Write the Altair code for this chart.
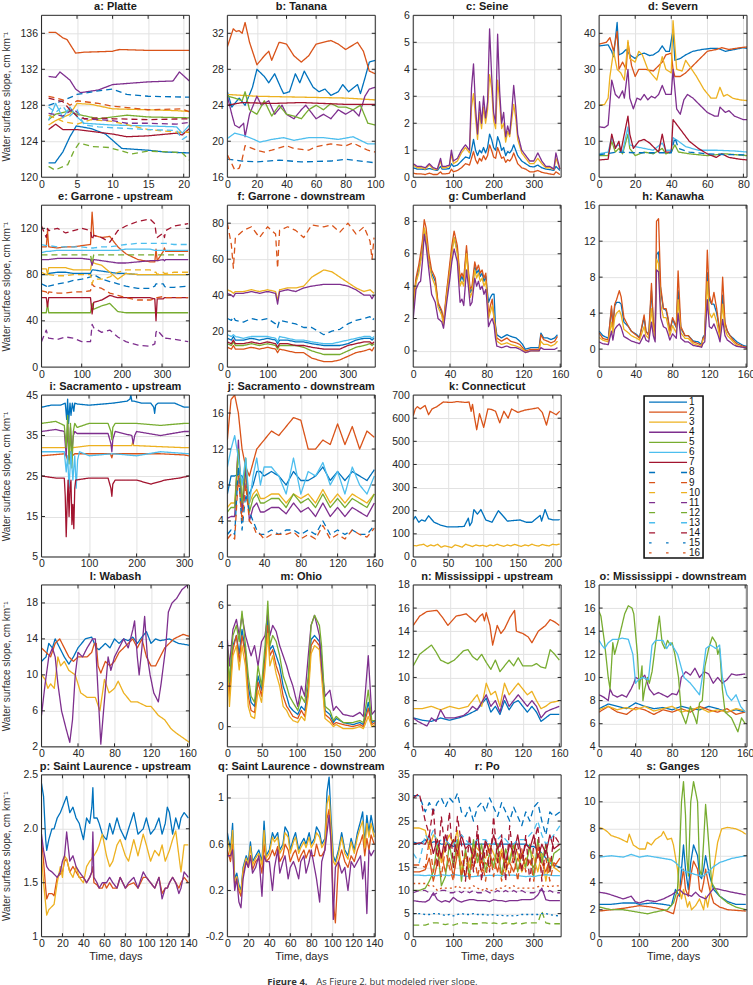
import altair as alt
import pandas as pd

# ---------------- style ----------------
FONT = "Liberation Sans Narrow, Liberation Sans, Arial, sans-serif"
FONT_REG = "Liberation Sans, Arial, sans-serif"
PW, PH = 148, 162
INK = "#262626"
TICK = 3.5

SERIES_IDS = [f"{i:02d}" for i in range(1, 17)]
BASE = ["#0072BD", "#D95319", "#EDB120", "#7E2F8E", "#77AC30", "#4DBEEE", "#A2142F"]
SERIES_COLORS = [BASE[i % 7] for i in range(16)]
PLOT_DASH = [[1, 0]] * 7 + [[6, 4]] * 7 + [[2, 3]] * 2
LEGEND_DASH = [[1, 0]] * 7 + [[6, 26]] * 7 + [[2.5, 14.5]] * 2

YTITLE = "Water surface slope, cm km\u207b\u00b9"
XTITLE = "Time, days"
LEGEND_LABELS = [str(i) for i in range(1, 17)]
CAPTION_BOLD = "Figure 4."
CAPTION_TEXT = "As Figure 2, but modeled river slope."

# ---------------- data (series id -> (x values, y values)) ----------------
PLATTE = {
    2: ([1, 2, 3, 3.6, 4.8, 6, 10, 11, 15, 20.8], [136.1, 136.1, 135.5, 135.3, 133.8, 133.9, 134.0, 134.2, 134.1, 134.1]),
    4: ([1, 2, 2.6, 4, 4.8, 5.5, 8, 10, 15, 18.5, 19.4, 20.8], [131.2, 131.1, 131.7, 130.8, 129.8, 129.4, 129.7, 130.3, 130.6, 130.7, 131.7, 130.7]),
    8: ([1, 3, 5, 8, 10, 12, 15, 20.8], [128.0, 128.5, 129.2, 129.6, 129.8, 129.2, 129.0, 128.9]),
    9: ([1, 3, 4, 5, 8, 10, 15, 19.6, 20.8], [129.0, 128.6, 128.0, 128.5, 128.2, 127.9, 127.5, 127.6, 127.3]),
    3: ([1, 2, 4, 5, 7, 10, 15, 19, 20.8], [125.8, 126.3, 127.0, 128.2, 128.1, 127.6, 127.5, 127.4, 127.3]),
    5: ([1, 2, 4, 5, 8, 10, 12, 15, 20.8], [126.4, 127.0, 127.4, 127.0, 126.5, 126.7, 126.9, 126.7, 126.6]),
    11: ([1, 3, 4.5, 6, 10, 12, 15, 19, 20.8], [127.1, 126.8, 127.6, 126.5, 126.3, 126.0, 126.0, 125.9, 126.1]),
    6: ([1, 2, 3, 4, 5, 6, 10, 15, 19, 19.8, 20.8], [126.3, 128.2, 126.6, 127.8, 126.7, 126.0, 125.8, 125.7, 125.6, 124.9, 125.8]),
    13: ([1, 2, 3, 4, 5, 6, 8, 10, 15, 19, 19.8, 20.8], [127.8, 127.2, 127.9, 126.8, 127.5, 125.8, 125.6, 125.5, 125.3, 125.2, 124.2, 124.7]),
    10: ([1, 3, 5, 7, 10, 15, 19, 20.8], [126.9, 126.2, 125.9, 126.4, 126.2, 125.3, 125.0, 125.0]),
    7: ([1, 2, 3, 5, 8, 10, 12, 15, 19, 19.8, 20.8], [125.3, 125.9, 125.3, 125.3, 125.0, 124.8, 124.5, 124.6, 124.9, 124.7, 125.4]),
    14: ([1, 3, 4, 5, 6, 8, 10, 15, 20.8], [128.8, 128.4, 127.5, 126.8, 126.5, 126.6, 126.5, 126.4, 126.5]),
    1: ([1, 1.9, 3, 4, 4.9, 7, 9, 11.3, 15, 17.4, 20.8], [121.6, 121.6, 122.8, 124.5, 125.7, 125.4, 124.8, 123.2, 123.0, 122.8, 122.7]),
    12: ([1, 1.9, 3.7, 4.6, 5.3, 7.2, 9.5, 12.7, 15, 18.5, 19.8, 20.8], [121.2, 120.8, 121.4, 123.0, 123.8, 123.4, 123.3, 122.6, 122.9, 122.8, 122.7, 121.9]),
}

TANANA = {
    2: ([0, 2, 4, 6, 8, 10, 12, 15, 20, 25, 28, 30, 35, 40, 45, 50, 55, 60, 70, 75, 80, 88, 92, 96, 100],
        [30.5, 31.5, 32.5, 32.2, 32.3, 32.0, 33.2, 31.0, 28.5, 29.5, 30.0, 29.0, 31.0, 30.8, 29.5, 28.8, 29.5, 30.8, 31.2, 30.8, 30.2, 31.0, 30.0, 27.8, 27.5]),
    1: ([0, 3, 8, 12, 17, 20, 25, 28, 32, 36, 38, 42, 46, 49, 52, 58, 62, 66, 70, 75, 78, 82, 88, 90, 93, 96, 100],
        [25.5, 23.8, 24.8, 24.0, 26.0, 28.0, 27.2, 26.5, 27.5, 26.0, 25.3, 25.5, 27.5, 26.5, 27.8, 26.0, 25.5, 25.8, 25.1, 25.5, 26.3, 25.5, 26.3, 25.3, 27.0, 28.8, 29.0]),
    3: ([0, 20, 50, 80, 100], [25.2, 25.0, 24.9, 24.8, 24.6]),
    7: ([0, 10, 30, 50, 80, 100], [24.0, 24.3, 24.2, 24.3, 24.1, 24.1]),
    5: ([0, 5, 10, 12, 15, 20, 25, 30, 35, 40, 45, 50, 55, 60, 65, 70, 75, 80, 85, 90, 95, 100],
        [25.0, 24.8, 24.5, 25.5, 23.5, 23.0, 24.5, 22.8, 24.0, 23.0, 22.8, 22.5, 23.5, 24.0, 23.5, 24.2, 23.8, 23.8, 23.5, 24.0, 22.0, 21.8]),
    4: ([0, 3, 5, 8, 11, 12, 15, 20, 23, 28, 32, 37, 40, 45, 50, 53, 60, 65, 70, 75, 80, 85, 89, 93, 96, 100],
        [25.0, 23.0, 21.8, 21.5, 22.0, 20.5, 23.0, 25.0, 24.0, 24.5, 23.0, 24.0, 23.0, 22.5, 23.5, 24.0, 22.5, 23.0, 22.5, 23.5, 23.0, 23.5, 22.8, 25.0, 25.8, 26.0]),
    6: ([0, 5, 12, 18, 22, 30, 38, 45, 55, 65, 75, 85, 95, 100],
        [20.3, 20.9, 20.6, 20.2, 19.9, 20.2, 20.4, 20.1, 20.4, 20.4, 20.2, 20.5, 19.7, 19.7]),
    9: ([0, 3, 5, 8, 10, 12, 20, 25, 30, 40, 45, 55, 60, 70, 80, 85, 95, 100],
        [18.5, 17.5, 16.8, 17.0, 18.0, 19.5, 19.0, 18.8, 19.0, 19.5, 19.2, 19.0, 19.4, 19.7, 19.5, 19.8, 19.0, 18.8]),
    8: ([0, 10, 20, 35, 50, 70, 80, 95, 100], [18.0, 17.8, 17.7, 17.9, 17.7, 17.8, 18.0, 17.7, 17.6]),
}

C_X = [0, 10, 20, 30, 40, 50, 60, 68, 72, 80, 90, 95, 100, 110, 120, 130, 140, 145, 150, 155, 160, 165, 170, 175, 180, 185,
       190, 195, 200, 205, 210, 215, 220, 225, 230, 235, 240, 245, 250, 255, 260, 270, 280, 290, 300, 310, 320, 330, 340, 350, 355, 365]
SEINE = {
    2: (C_X, [0.15, 0.12, 0.12, 0.1, 0.15, 0.1, 0.1, 0.2, 0.12, 0.12, 0.15, 0.3, 0.2, 0.25, 0.35, 0.5, 0.45, 0.7, 0.95, 0.65, 0.5, 0.7, 0.6, 0.8, 0.65, 0.8,
              1.2, 1.0, 0.75, 0.7, 1.1, 0.9, 0.7, 0.75, 0.55, 0.65, 0.6, 0.7, 0.9, 0.7, 0.5, 0.35, 0.3, 0.2, 0.2, 0.25, 0.18, 0.15, 0.12, 0.1, 0.2, 0.1]),
    1: (C_X, [0.35, 0.3, 0.3, 0.28, 0.32, 0.28, 0.25, 0.4, 0.3, 0.3, 0.32, 0.5, 0.4, 0.45, 0.6, 0.75, 0.7, 1.0, 1.4, 1.0, 0.8, 1.0, 0.9, 1.1, 0.9, 1.1,
              1.6, 1.4, 1.1, 1.0, 1.5, 1.3, 1.0, 1.1, 0.8, 0.95, 0.9, 1.0, 1.2, 1.0, 0.8, 0.6, 0.5, 0.4, 0.38, 0.45, 0.35, 0.3, 0.28, 0.25, 0.4, 0.25]),
    3: (C_X, [0.45, 0.35, 0.35, 0.3, 0.45, 0.3, 0.28, 0.6, 0.35, 0.35, 0.4, 0.85, 0.5, 0.6, 0.9, 1.1, 0.9, 2.6, 3.1, 2.2, 1.4, 2.4, 1.8, 2.6, 2.0, 2.5,
              3.8, 3.3, 2.1, 1.8, 3.6, 2.8, 1.8, 2.0, 1.3, 1.7, 1.5, 2.1, 2.7, 2.2, 1.4, 0.9, 0.7, 0.5, 0.5, 0.7, 0.5, 0.35, 0.35, 0.28, 0.7, 0.3]),
    4: (C_X, [0.5, 0.4, 0.4, 0.35, 0.5, 0.35, 0.3, 0.7, 0.4, 0.4, 0.45, 1.0, 0.6, 0.7, 1.0, 1.2, 1.0, 3.3, 4.2, 2.6, 1.6, 2.8, 2.0, 3.0, 2.2, 2.8,
              5.5, 3.8, 2.4, 2.0, 5.3, 3.2, 2.0, 2.4, 1.5, 1.9, 1.6, 2.4, 3.4, 2.6, 1.6, 1.0, 0.8, 0.6, 0.6, 0.9, 0.6, 0.4, 0.4, 0.3, 0.9, 0.3]),
}

SEVERN = {
    8: ([0, 10, 20, 30, 40, 42, 44, 50, 60, 70, 82], [6.2, 7, 6.8, 6.8, 6.8, 11, 8, 7, 6.5, 6.3, 6.2]),
    5: ([0, 5, 7, 9, 11, 13, 16, 17, 20, 25, 30, 35, 37, 40, 42, 44, 50, 60, 70, 82],
        [6, 6, 10, 7, 8, 6.5, 12, 8, 6, 7, 6.5, 8, 6.5, 7, 9, 7, 6.5, 6, 6.5, 6]),
    6: ([0, 5, 7, 9, 11, 13, 16, 17, 20, 25, 30, 35, 37, 40, 41, 44, 48, 55, 65, 75, 82],
        [6.5, 7, 11, 8.5, 9, 7, 14, 9, 8.5, 8, 7.5, 9.5, 7.5, 7.5, 11, 10, 8.5, 7.5, 7.5, 7.3, 7]),
    7: ([0, 5, 7, 9, 11, 12, 16, 17, 19, 22, 25, 28, 30, 33, 35, 37, 40, 41, 44, 47, 50, 55, 60, 65, 68, 72, 78, 82],
        [4.8, 5, 12, 8, 10, 7, 17, 12, 8, 10, 10.5, 9.5, 8.5, 7, 12, 7, 7, 16, 14, 12, 10, 8, 6.5, 5.5, 6.5, 5.5, 5, 4.8]),
    4: ([0, 3, 5, 7, 9, 11, 13, 14, 16, 17, 19, 21, 23, 25, 27, 29, 31, 33, 35, 37, 40, 41, 43, 45, 47, 49, 52, 56, 60, 64, 66, 67, 70, 72, 75, 80, 82],
        [14, 13.8, 14.5, 27, 23, 22, 24, 22, 30, 22, 19, 22, 21.5, 23, 21.5, 22.5, 22, 23, 25.5, 23, 23, 30, 19, 17.5, 21.5, 23, 22, 20, 18, 17, 17, 19.5, 18, 18.5, 17, 16, 16]),
    3: ([0, 3, 5, 6, 8, 10, 12, 14, 16, 17, 20, 22, 24, 27, 32, 35, 37, 40, 41, 43, 46, 48, 50, 54, 58, 62, 65, 67, 69, 71, 74, 78, 82],
        [20, 20.2, 22, 28, 35, 30, 29, 27, 38, 33, 32, 35, 34, 30, 27, 33.5, 30, 29, 43.5, 30, 29.5, 32.5, 31, 28, 24.5, 22, 22, 25, 22.5, 23, 22, 21.5, 21.3]),
    2: ([0, 4, 6, 8, 10, 11, 13, 15, 16, 18, 20, 22, 26, 30, 33, 35, 37, 40, 41, 42, 45, 48, 52, 56, 60, 65, 68, 72, 78, 82],
        [37, 37.5, 38.8, 35, 40.5, 30, 32, 30, 37.5, 31, 28, 30, 30, 29.5, 31, 32, 34, 34.5, 30, 28, 28, 29, 31, 33, 35, 35.5, 36, 35.5, 36, 36.2]),
    1: ([0, 5, 7, 8, 10, 11, 13, 15, 17, 20, 22, 25, 28, 30, 33, 35, 37, 39, 41, 42, 45, 48, 52, 57, 62, 66, 70, 75, 80, 82],
        [36.5, 36.8, 35, 33.5, 43, 34, 34.5, 35.5, 34, 33, 34, 34.5, 33.8, 34, 35, 36.5, 35, 35, 41, 32.5, 33, 34, 35, 35.5, 35.8, 35.8, 35, 35.5, 36, 35.8]),
}

E_X = [0, 12, 15, 18, 40, 60, 80, 100, 122, 126, 130, 150, 170, 190, 210, 240, 270, 282, 285, 288, 303, 306, 309, 330, 365]
GARONNE_UP = {
    11: (E_X, [22, 32, 28, 25, 24, 26, 25, 22, 22, 37, 34, 30, 32, 26, 22, 19, 18, 20, 30, 32, 26, 24, 25, 24, 22]),
    5: (E_X, [47, 47, 55, 47, 47, 47, 47, 47, 47, 55, 50, 53, 55, 48, 47, 47, 47, 47, 47, 47, 47, 47, 47, 47, 47]),
    7: (E_X, [60, 60, 52, 60, 60, 60, 60, 60, 60, 46, 56, 58, 62, 60, 60, 60, 60, 59, 40, 59, 59, 60, 60, 60, 60]),
    9: (E_X, [66, 65, 62, 65, 64, 64, 65, 65, 66, 72, 70, 68, 64, 62, 60, 58, 58, 59, 60, 60, 61, 60, 60, 60, 60]),
    8: (E_X, [72, 70, 68, 70, 72, 73, 75, 76, 78, 80, 80, 76, 74, 72, 70, 68, 68, 70, 72, 72, 72, 70, 69, 69, 70]),
    1: (E_X, [80, 80, 80, 81, 82, 82, 81, 81, 81, 84, 84, 83, 82, 81, 81, 80, 80, 80, 80, 80, 80, 80, 80, 80, 80]),
    10: (E_X, [82, 80, 78, 80, 79, 79, 80, 80, 80, 72, 76, 76, 78, 82, 84, 84, 84, 82, 82, 80, 82, 81, 81, 82, 82]),
    3: (E_X, [85, 85, 80, 86, 86, 86, 84, 84, 84, 92, 90, 88, 82, 76, 81, 80, 80, 80, 80, 80, 80, 80, 80, 80, 80]),
    4: (E_X, [93, 93, 93, 93, 94, 94, 94, 94, 93, 88, 93, 92, 91, 90, 90, 91, 92, 92, 92, 92, 93, 92, 93, 93, 93]),
    12: (E_X, [97, 97, 97, 97, 97, 97, 97, 97, 97, 90, 97, 97, 97, 97, 97, 97, 97, 97, 97, 97, 97, 97, 97, 97, 97]),
    6: (E_X, [99, 100, 100, 100, 101, 101, 101, 101, 101, 101, 101, 101, 101, 101, 102, 102, 102, 101, 101, 101, 101, 101, 101, 101, 101]),
    13: (E_X, [106, 105, 105, 105, 104, 104, 104, 104, 103, 103, 103, 104, 104, 105, 106, 107, 107, 107, 107, 107, 107, 107, 107, 106, 106]),
    2: (E_X, [104, 104, 118, 104, 103, 104, 104, 105, 106, 134, 114, 112, 113, 104, 98, 93, 91, 91, 102, 92, 100, 103, 100, 100, 100]),
    14: (E_X, [122, 112, 120, 118, 120, 116, 118, 120, 118, 110, 114, 112, 108, 118, 122, 126, 128, 124, 116, 112, 116, 112, 118, 122, 124]),
}

F_X = [0, 10, 15, 20, 40, 60, 80, 100, 120, 125, 130, 150, 170, 190, 210, 240, 260, 280, 300, 320, 340, 355, 360, 365]
GARONNE_DOWN = {
    2: (F_X, [11, 10, 12, 10, 10, 11, 10, 11, 10, 8, 10, 9, 8, 8, 5, 3, 3, 4, 6, 8, 9, 10, 9, 11]),
    5: (F_X, [13, 12, 14, 12, 12, 13, 12, 13, 12, 10, 12, 12, 12, 11, 9, 7, 7, 7, 9, 11, 12, 13, 12, 13]),
    7: (F_X, [14, 13, 15, 13, 13, 14, 13, 14, 13, 11, 13, 13, 12, 12, 11, 10, 10, 10, 12, 13, 14, 14, 13, 14]),
    1: (F_X, [16, 15, 17, 15, 15, 16, 15, 16, 15, 13, 15, 15, 14, 14, 13, 12, 12, 12, 13, 15, 16, 16, 15, 16]),
    6: (F_X, [18, 17, 18, 17, 16, 17, 17, 17, 16, 14, 17, 16, 15, 15, 14, 13, 13, 14, 15, 16, 17, 17, 16, 17]),
    8: (F_X, [27, 26, 28, 26, 25, 27, 26, 27, 24, 22, 26, 25, 24, 22, 22, 18, 20, 21, 24, 26, 27, 28, 26, 27]),
    4: (F_X, [41, 40, 39, 41, 41, 42, 41, 42, 41, 35, 42, 43, 42, 44, 45, 46, 46, 46, 45, 43, 40, 40, 38, 40]),
    3: (F_X, [43, 42, 41, 42, 42, 43, 42, 43, 42, 37, 43, 44, 44, 45, 50, 54, 53, 50, 47, 44, 42, 43, 42, 41]),
    9: (F_X, [80, 68, 55, 72, 76, 78, 72, 78, 74, 55, 76, 78, 76, 72, 79, 78, 79, 75, 80, 74, 78, 70, 60, 72]),
}

G_X = [0, 3, 6, 8, 10, 12, 14, 17, 20, 24, 27, 31, 33, 36, 40, 42, 44.5, 48, 51, 53, 55, 58, 60, 62, 64, 67, 69, 71, 73, 75,
       77, 79, 80, 82, 84, 86, 88, 89.5, 91, 96, 102, 106, 112, 116, 119, 122, 128, 134, 137, 139, 142, 146, 150, 154, 157]
CUMBERLAND = {
    4: (G_X, [2.0, 3.8, 4.2, 4.3, 5.5, 7.2, 6.5, 5.0, 3.5, 3.0, 2.0, 1.8, 1.4, 2.8, 4.5, 5.5, 6.3, 5.5, 3.0, 3.2, 2.8, 5.0, 4.0, 2.8, 3.0, 4.5, 4.0, 4.3, 3.8, 4.0,
              3.5, 3.8, 3.2, 1.5, 1.8, 2.0, 1.6, 0.8, 0.3, 0.2, 0.3, 0.2, 0.2, 0.1, 0.0, -0.1, 0.0, 0.0, 0.0, 0.2, 0.1, 0.1, 0.1, 0.1, 0.2]),
    3: (G_X, [2.6, 4.2, 4.8, 5.5, 6.2, 7.6, 7.0, 5.5, 4.6, 4.0, 2.7, 2.2, 1.6, 3.2, 5.0, 6.0, 7.0, 6.0, 4.0, 4.3, 4.0, 6.0, 4.6, 3.3, 3.6, 5.0, 4.5, 4.8, 4.3, 4.5,
              4.0, 4.3, 3.6, 2.0, 2.4, 2.8, 2.0, 1.3, 0.6, 0.4, 0.5, 0.4, 0.3, 0.2, 0.1, -0.1, 0.0, 0.0, 0.0, 0.6, 0.4, 0.4, 0.3, 0.4, 0.6]),
    1: (G_X, [2.8, 4.3, 5.0, 5.6, 6.4, 7.5, 7.0, 5.6, 4.8, 4.3, 2.9, 2.4, 1.7, 3.3, 5.2, 6.2, 7.0, 6.2, 4.3, 4.6, 4.3, 6.2, 4.8, 3.6, 3.8, 5.2, 4.8, 5.0, 4.6, 4.8,
              4.3, 4.6, 4.0, 3.0, 3.3, 3.5, 3.5, 1.6, 1.0, 0.8, 1.0, 0.9, 0.8, 0.6, 0.4, 0.1, 0.2, 0.2, 0.2, 1.1, 0.8, 0.8, 0.7, 0.8, 1.0]),
    2: (G_X, [3.0, 4.5, 5.3, 6.0, 6.8, 8.1, 7.6, 6.0, 5.0, 4.5, 3.0, 2.5, 1.8, 3.5, 5.5, 6.5, 7.4, 6.5, 4.5, 4.8, 4.5, 6.5, 5.0, 3.8, 4.0, 5.5, 5.0, 5.3, 4.8, 5.0,
              4.5, 4.8, 4.0, 2.2, 2.8, 3.2, 2.0, 1.5, 0.8, 0.6, 0.8, 0.6, 0.5, 0.4, 0.2, 0.0, 0.1, 0.1, 0.1, 1.0, 0.7, 0.6, 0.5, 0.6, 0.9]),
}

H_X = [0, 4, 10, 13.5, 15, 17, 19, 22, 24, 27, 32, 35, 41, 44, 49, 51, 54, 57, 59, 61, 62.5, 64.7, 67, 70, 73, 75, 77, 80, 84, 86,
       89, 93.5, 97, 102.5, 108, 111.6, 113, 115, 117.8, 120, 122.5, 125, 128, 130, 131.6, 134.5, 137, 139.6, 142.5, 146, 150, 157, 161]
KANAWHA = {
    2: (H_X, [1.8, 1.2, 1.0, 4.8, 2.5, 5.0, 5.5, 6.5, 5.8, 3.5, 2.5, 2.0, 1.5, 1.2, 3.8, 2.0, 1.5, 7.3, 3.0, 1.5, 14.2, 14.5, 7.0, 4.5, 4.5, 3.5, 2.0, 3.5, 2.5, 8.7,
              2.5, 1.5, 1.5, 0.8, 0.6, 0.4, 1.2, 1.5, 11.0, 6.0, 5.0, 6.3, 4.5, 3.0, 1.5, 8.0, 3.0, 2.0, 1.5, 1.0, 0.6, 0.3, 0.2]),
    1: (H_X, [2.0, 1.5, 1.2, 4.5, 2.5, 4.8, 5.2, 5.2, 5.0, 3.0, 2.5, 2.0, 1.6, 1.3, 3.5, 2.0, 1.6, 6.5, 3.0, 1.6, 10.5, 10.8, 6.5, 4.5, 4.3, 3.3, 2.0, 3.3, 2.4, 6.5,
              2.3, 1.5, 1.5, 0.9, 0.8, 0.5, 1.3, 1.6, 8.5, 5.5, 5.0, 5.0, 4.0, 2.8, 1.5, 6.0, 2.8, 2.0, 1.5, 1.2, 0.8, 0.4, 0.3]),
    3: (H_X, [1.3, 1.0, 0.8, 3.0, 1.8, 3.5, 4.0, 4.3, 3.8, 2.2, 1.8, 1.5, 1.2, 1.0, 2.5, 1.5, 1.2, 4.5, 2.2, 1.2, 10.0, 9.5, 5.0, 3.5, 3.5, 2.6, 1.5, 2.6, 1.8, 5.5,
              1.8, 1.2, 1.2, 0.6, 0.4, 0.3, 1.0, 1.2, 7.5, 4.0, 3.5, 4.0, 3.0, 2.0, 1.2, 5.0, 2.2, 1.5, 1.2, 0.8, 0.4, 0.2, 0.1]),
    4: (H_X, [0.8, 0.6, 0.5, 2.0, 1.0, 2.2, 2.5, 2.8, 2.4, 1.4, 1.1, 0.9, 0.7, 0.6, 1.6, 1.0, 0.8, 3.0, 1.5, 0.8, 8.8, 8.6, 3.5, 2.5, 2.3, 1.7, 1.0, 1.7, 1.2, 4.0,
              1.2, 0.8, 0.8, 0.4, 0.3, 0.2, 0.6, 0.8, 5.5, 2.5, 2.3, 2.8, 2.0, 1.4, 0.8, 3.3, 1.5, 1.0, 0.8, 0.5, 0.3, 0.2, 0.1]),
}

SAC_UP = {
    7: ([0, 30, 48, 50, 52, 54, 56, 58, 60, 62, 64, 66, 68, 70, 72, 100, 140, 146, 148, 150, 155, 200, 230, 260, 290, 310],
        [25, 24.5, 24.5, 20, 10, 18, 24, 15, 22, 24, 13, 18, 12, 22, 24, 24.5, 24.5, 22, 20, 23, 24, 24, 23, 24, 24.5, 25]),
    6: ([0, 48, 52, 55, 58, 62, 66, 70, 73, 76, 80, 100, 150, 200, 250, 310],
        [31, 31, 26, 30, 22, 31, 24, 30, 22, 29, 31, 30, 30.5, 30, 31, 30.5]),
    2: ([0, 50, 55, 60, 65, 70, 100, 145, 148, 150, 200, 250, 300, 310],
        [30, 30.5, 29, 31, 30, 30.5, 30.5, 30.5, 29.5, 30.5, 30.5, 30.5, 30.2, 30]),
    3: ([0, 50, 55, 60, 65, 100, 150, 190, 192, 194, 200, 300, 310],
        [32, 32, 34, 33, 32, 32.5, 32.5, 32.5, 33.5, 32.5, 32.5, 32, 32]),
    4: ([0, 30, 48, 52, 55, 58, 61, 64, 67, 70, 75, 100, 140, 146, 148, 150, 155, 190, 193, 196, 200, 250, 300, 310],
        [36, 36.5, 36, 30, 38, 29, 37, 31, 35, 36, 35.5, 35.5, 35.5, 33, 31, 34, 36, 35, 33, 35, 36, 35, 36, 36]),
    5: ([0, 30, 48, 52, 55, 58, 61, 64, 67, 70, 75, 100, 140, 146, 148, 150, 155, 200, 250, 300, 310],
        [38, 38.5, 37.5, 32, 40, 28, 38, 27, 36, 38, 37, 38, 38, 36, 34, 37, 38, 38, 37.5, 38, 38]),
    1: ([0, 20, 40, 50, 53, 55, 57, 60, 62, 65, 68, 70, 75, 100, 150, 180, 186, 188, 190, 195, 210, 230, 236, 238, 240, 245, 280, 300, 310],
        [42, 42.5, 42.5, 43, 39, 44, 38, 43, 40, 43, 41, 43, 42.8, 42.5, 43, 43.5, 44, 45, 43.5, 43.5, 43, 43, 42, 40.5, 42.5, 43, 43, 42, 42]),
}

J_X = [0, 4, 8, 12, 16, 20, 24, 28, 32, 36, 40, 48, 56, 64, 72, 80, 88, 96, 104, 112, 120, 128, 136, 144, 152, 160]
SAC_DOWN = {
    9: (J_X, [2, 2.5, 2, 9, 4, 8, 4, 3.5, 2.5, 2.5, 2, 2.5, 2.5, 2.5, 2.8, 2, 2.5, 2, 3.5, 2, 2.5, 2, 3, 2.5, 2.2, 3.2]),
    8: (J_X, [2.5, 3, 2.5, 10, 3, 7, 5, 4, 3, 2.5, 2.5, 3, 2.5, 3, 3, 2.5, 3, 2.5, 4, 2.5, 3, 2.5, 3, 2.5, 2.5, 3.5]),
    4: (J_X, [4.3, 4.5, 4.5, 13, 5, 10, 4, 5.5, 6, 5, 5, 5.5, 5.5, 4.8, 6, 5, 5.5, 4.5, 6, 4.5, 5.5, 4.5, 5.5, 5, 4.5, 6]),
    5: (J_X, [5, 5.5, 5.5, 12, 6, 11, 5, 6.5, 7, 6, 6, 6.5, 6.5, 5.5, 7, 6, 6.5, 5.5, 7, 5.5, 6.5, 5.5, 6.5, 6, 5.5, 7]),
    3: (J_X, [5.5, 6, 6, 12, 5, 9, 6, 7, 7.5, 6.5, 6.5, 7, 7, 6, 7, 6.5, 7, 6, 7.5, 6, 7, 6, 7, 6.5, 6, 7]),
    6: (J_X, [10, 12, 13.5, 11, 8, 11, 6, 9, 11, 8, 10, 10, 9, 7, 11, 7, 9.5, 9, 10.5, 8, 9.5, 7, 10, 8, 7, 9]),
    1: (J_X, [7, 9, 9, 9.2, 9, 8, 7, 8, 9.5, 9.5, 9, 9.5, 9, 8, 9.5, 8.5, 8.5, 9, 10, 8.5, 9.5, 8.5, 9.5, 9, 8.5, 9.7]),
    2: (J_X, [13, 17.5, 18, 16, 12, 10, 9, 10.5, 12, 12.5, 13, 14, 13.5, 14.5, 15.5, 15.2, 12, 12, 13, 12.5, 14.8, 12.5, 14.5, 12, 14, 13.3]),
}

K_X3 = [0, 5, 10, 15, 20, 25, 30, 35, 40, 45, 50, 55, 60, 65, 70, 75, 80, 85, 90, 95, 100, 105,
        110, 115, 120, 125, 130, 135, 140, 145, 150, 155, 160, 165, 170, 175, 180, 185, 190, 195, 200, 205, 210]
CONNECTICUT = {
    3: (K_X3, [50, 48, 52, 55, 45, 52, 48, 55, 42, 48, 45, 40, 52, 48, 42, 55, 50, 45, 52, 48, 50, 45,
               52, 48, 55, 50, 46, 52, 48, 54, 50, 46, 52, 48, 55, 50, 47, 54, 50, 48, 55, 52, 56]),
    1: ([0, 3, 8, 12, 17, 22, 30, 39, 49, 60, 73, 79, 81, 84, 87, 92, 97, 104, 113, 122, 128, 135, 145, 153, 162, 170, 182, 184, 189, 194, 200, 208, 210],
        [160, 175, 150, 160, 155, 178, 150, 138, 130, 130, 132, 168, 135, 150, 205, 185, 205, 160, 150, 200, 180, 155, 158, 160, 150, 150, 180, 155, 205, 165, 160, 160, 162]),
    2: ([0, 3, 6, 10, 17, 22, 27, 34, 43, 55, 63, 75, 80, 83, 85, 88, 91, 95, 101, 107, 112, 118, 124, 130, 136, 141, 150, 160, 170, 179, 185, 191, 196, 205, 210],
        [610, 640, 650, 640, 655, 615, 640, 650, 670, 668, 672, 668, 670, 630, 660, 600, 550, 620, 560, 640, 638, 630, 580, 630, 600, 640, 625, 635, 640, 645, 625, 570, 630, 615, 630]),
}

WABASH = {
    3: ([0, 4, 7, 10, 14, 18, 21, 25, 30, 37, 43, 50, 59, 64, 69, 74, 80, 84, 90, 98, 105, 115, 120, 128, 135, 142, 148, 155, 162],
        [10, 9.5, 8.5, 9, 8.5, 12, 11, 11.5, 10.5, 10, 8, 7.5, 7.5, 6, 9.5, 8, 8.5, 9.3, 8, 7, 7, 6.5, 6.5, 5.5, 5, 4, 3.5, 3, 2.5]),
    2: ([0, 5, 10, 15, 20, 25, 30, 35, 40, 50, 55, 58, 60, 62, 65, 70, 75, 80, 85, 90, 95, 100, 105, 110, 115, 120, 125, 130, 135, 145, 155, 162],
        [13, 12.5, 12, 13.5, 14, 13, 12, 11.5, 12, 12, 12.5, 13.5, 13.5, 11, 10.2, 11.5, 11, 11.5, 12.5, 13, 13.5, 14, 13, 14, 12, 11, 11, 12, 13, 14, 14.5, 14.3]),
    1: ([0, 5, 8, 12, 15, 20, 25, 30, 35, 40, 48, 55, 60, 63, 70, 75, 80, 85, 90, 95, 100, 105, 110, 115, 120, 125, 130, 140, 150, 162],
        [11.5, 12, 13.5, 13, 14, 13, 12, 11.2, 12, 13, 14, 14.2, 13, 12.8, 13.5, 13, 14, 13.5, 14, 13.8, 14.2, 13.5, 14.2, 14.8, 13.5, 14, 13.8, 14, 13.5, 13.3]),
    4: ([0, 4, 8, 12, 15, 18, 22, 27, 31, 34, 37, 40, 45, 50, 56, 59, 62, 65, 68, 73, 76, 80, 85, 90, 95, 100, 102, 105, 107, 110, 113, 116, 119, 123, 128, 131, 136, 139, 143, 148, 154, 160],
        [5.5, 9, 12, 13, 12, 9, 6, 4, 2.5, 5, 10, 12.5, 12, 13, 14, 14, 8, 2.3, 6, 12, 10.5, 12, 13, 14, 13, 15, 16, 12, 10, 13, 16.5, 12, 10, 8, 7, 9, 13, 17, 18, 18.5, 19.5, 20]),
}

M_X = [0, 3, 8, 13, 17, 21, 26, 30, 34, 39, 44, 49, 54, 58, 61, 65, 70, 75, 80, 85, 89, 94, 101, 106, 111, 116, 120, 125, 132, 135, 140, 147, 152, 156, 166, 180, 190, 195, 202, 207, 212]
OHIO = {
    3: (M_X, [3.2, 1.0, 3.5, 4.0, 2.8, 4.0, 3.0, 1.0, 0.5, 0.4, 1.8, 1.2, 2.8, 4.6, 3.0, 3.5, 2.6, 2.0, 1.0, 0.8, 0.5, 0.3, 0.2, 0.5, 0.3, 1.5, 3.6, 4.0, 3.8, 2.5, 0.4, 0.2, 0.0, 0.1, -0.1, -0.1, 0.0, -0.1, 0.5, 0.0, 0.1]),
    2: (M_X, [3.5, 1.5, 3.8, 4.5, 3.2, 4.5, 3.5, 1.5, 0.8, 0.7, 2.2, 1.5, 3.2, 5.0, 3.5, 3.8, 3.0, 2.5, 1.5, 1.0, 0.8, 0.5, 0.4, 0.8, 0.5, 1.8, 4.0, 4.3, 4.0, 3.0, 0.6, 0.4, 0.1, 0.2, 0.1, 0.0, 0.1, 0.0, 0.9, 0.1, 0.2]),
    1: (M_X, [3.8, 2.0, 4.0, 4.5, 3.6, 4.8, 3.7, 2.0, 1.2, 1.0, 2.5, 1.8, 3.5, 5.3, 3.8, 4.0, 3.5, 3.0, 2.0, 1.5, 1.0, 0.8, 0.6, 1.0, 0.8, 2.0, 4.3, 4.5, 4.2, 3.5, 0.8, 0.6, 0.2, 0.4, 0.2, 0.1, 0.2, 0.1, 1.2, 0.2, 0.3]),
    5: (M_X, [4.0, 2.2, 4.5, 5.0, 4.2, 5.7, 4.0, 2.5, 1.5, 1.2, 3.0, 2.0, 4.0, 6.2, 4.0, 4.5, 4.2, 3.5, 2.5, 2.0, 1.5, 1.2, 0.8, 1.5, 1.2, 2.5, 5.0, 5.5, 5.0, 4.0, 1.0, 0.8, 0.3, 0.5, 0.2, 0.2, 0.3, 0.2, 1.8, 0.3, 0.3]),
    4: (M_X, [4.3, 3.0, 4.8, 5.3, 4.5, 5.5, 4.5, 4.0, 3.5, 4.0, 3.0, 4.2, 4.5, 5.6, 4.5, 5.0, 4.7, 4.0, 3.5, 3.0, 2.5, 2.0, 1.0, 2.0, 1.5, 3.5, 5.0, 5.5, 4.5, 3.0, 1.5, 1.8, 0.8, 1.0, 0.6, 0.5, 0.7, 0.5, 3.5, 0.6, 0.8]),
}

MISS_UP = {
    1: ([0, 10, 20, 30, 40, 50, 60, 70, 80, 85, 90, 95, 100, 105, 110, 115, 120, 125, 130, 135, 140, 145, 150, 160],
        [6.5, 6.3, 6.2, 6.5, 6.3, 6.5, 6.8, 7.2, 8.2, 7, 7.5, 6.8, 8, 7.2, 7.8, 8, 7.5, 7, 7.5, 7, 6.2, 6.5, 6.8, 6.8]),
    4: ([0, 5, 15, 20, 25, 30, 35, 45, 55, 60, 65, 70, 80, 85, 90, 95, 100, 105, 110, 115, 120, 125, 130, 135, 140, 145, 150, 160],
        [6.5, 6.2, 5.8, 6.5, 6.2, 7.2, 6.5, 6.5, 6.7, 7, 7.5, 7.2, 8.5, 7.5, 8, 7, 8.5, 7.5, 8, 8.5, 8, 7.5, 8, 7.5, 6.5, 7, 7.2, 7.5]),
    3: ([0, 10, 20, 30, 40, 50, 60, 70, 75, 80, 85, 90, 95, 100, 105, 110, 115, 120, 125, 130, 135, 140, 145, 150, 160],
        [7.3, 7.3, 7.5, 7.2, 7.5, 7.3, 7.5, 8.5, 7.5, 9.5, 8.5, 8.8, 7.5, 9.5, 8.5, 9, 9.5, 9, 8.5, 8.8, 8, 7.3, 7.5, 7.8, 8]),
    5: ([0, 7, 15, 20, 25, 30, 38, 45, 55, 60, 65, 70, 75, 80, 85, 90, 95, 100, 105, 110, 115, 120, 125, 130, 135, 140, 145, 150, 155, 160],
        [11, 12, 12.5, 12.8, 12.2, 11.5, 11.2, 11.5, 12.3, 12.4, 11.8, 11.5, 12, 11.3, 10.7, 11.5, 10.5, 11, 11.5, 11, 11.7, 11, 11, 11, 11.2, 10.9, 10.8, 12.4, 12, 11.5]),
    2: ([0, 7, 15, 26, 32, 38, 47, 58, 68, 73, 76, 78, 80, 84, 87, 92, 96, 100, 106, 111, 113, 120, 126, 130, 137, 145, 150, 155, 160],
        [14.5, 15.3, 15.7, 15.8, 15.2, 14.5, 15.3, 15.5, 14.8, 15.3, 15.5, 14.9, 15.6, 14.5, 12.8, 14.5, 13.8, 14.2, 15.2, 15.8, 14.0, 13.8, 13.5, 13.0, 14.0, 14.5, 15.0, 14.8, 14.5]),
}

O_X3 = [0, 10, 20, 30, 40, 50, 60, 70, 80, 90, 100, 110, 120, 130, 140, 150, 160]
MISS_DOWN = {
    3: (O_X3, [7.2, 7.5, 7.2, 7.4, 7.2, 7.5, 7.1, 7.3, 7.5, 7, 7.2, 7.4, 7, 7.2, 7, 7.3, 7.1]),
    2: (O_X3, [7, 7.5, 7, 6.8, 7.4, 7.2, 6.8, 7.2, 7, 7.3, 7, 7.5, 7.2, 7, 7.3, 6.8, 7]),
    1: (O_X3, [7.3, 7.7, 7.5, 7.3, 7.8, 7.5, 7.3, 7.4, 7.2, 7.5, 7.3, 7.2, 7.5, 7.3, 7, 7.2, 7]),
    4: ([0, 5, 10, 12, 15, 20, 25, 30, 35, 38, 40, 45, 50, 55, 60, 65, 70, 75, 80, 85, 88, 90, 95, 100, 105, 110, 115, 120, 125, 130, 135, 140, 145, 150, 160],
        [8.5, 8.3, 8, 9, 8.5, 8.3, 8.5, 8.3, 9, 9.5, 10, 9.8, 10.2, 9, 8.5, 8.7, 8.5, 8.3, 8.6, 8.5, 9, 10, 10.5, 10.2, 10.8, 10, 10.5, 10.3, 9.5, 10, 9.5, 9.8, 10.3, 10.2, 10.3]),
    6: ([0, 3, 6, 10, 15, 20, 25, 32, 37, 40, 43, 48, 54, 58, 62, 70, 74, 78, 80, 86, 93, 100, 105, 110, 113, 117, 122, 128, 132, 135, 140, 145, 150, 155, 160],
        [13.2, 12.8, 12.5, 13, 13.3, 13.3, 13.4, 13.3, 12, 9.5, 9.8, 10, 9.8, 12.8, 13.2, 13.2, 12.5, 13, 12.8, 12, 10, 9.5, 9, 8.5, 10, 12.5, 12.8, 12.5, 12.8, 10, 8.5, 8, 8.5, 7.5, 7]),
    5: ([0, 2, 6, 10, 12, 15, 17, 22, 28, 32, 36, 38, 42, 44, 47, 48, 50, 53, 55, 58, 62, 66, 69, 72, 75, 78, 80, 83, 87, 90,
         95, 100, 105, 107, 110, 113, 116, 120, 124, 128, 130, 132, 135, 138, 145, 152, 156, 160],
        [15.7, 15.3, 13, 10, 9, 13, 12, 13.5, 15.5, 16.2, 16, 15.5, 12, 9, 11, 8, 9, 10, 9.5, 10.5, 13, 15.3, 13, 12.5, 13.2, 12.8, 13, 12, 10, 7,
         6, 7.5, 6.5, 6, 7.8, 8, 11, 12.5, 13.5, 13, 12, 12.5, 9, 7, 6.5, 5.3, 6.5, 6]),
}

P_X = [0, 2, 4, 5, 7, 10, 12, 15, 18, 20, 22, 24, 27, 30, 33, 36, 40, 43, 46, 48, 49, 50, 53, 55, 58,
       60, 62, 65, 68, 72, 75, 80, 83, 88, 92, 97, 100, 104, 108, 112, 115, 118, 120, 122, 125, 128, 131, 133, 136, 140]
LAURENCE_UP = {
    2: (P_X, [1.9, 1.7, 1.45, 1.35, 1.4, 1.4, 1.38, 1.55, 1.58, 1.6, 1.7, 1.72, 1.6, 1.65, 1.6, 1.55, 1.55, 1.5, 1.55, 1.6, 1.65, 1.5, 1.48, 1.45, 1.45,
              1.5, 1.45, 1.5, 1.45, 1.45, 1.55, 1.45, 1.48, 1.5, 1.45, 1.55, 1.55, 1.5, 1.45, 1.55, 1.4, 1.45, 1.45, 1.5, 1.55, 1.5, 1.45, 1.5, 1.55, 1.5]),
    3: (P_X, [1.75, 1.5, 1.3, 1.2, 1.25, 1.28, 1.3, 1.5, 1.65, 1.55, 1.75, 1.72, 1.6, 1.55, 1.65, 1.55, 1.5, 1.65, 1.7, 1.72, 1.75, 1.75, 1.8, 1.85, 1.95,
              1.85, 1.75, 1.65, 1.7, 1.85, 1.9, 1.75, 1.7, 1.9, 1.75, 1.95, 1.85, 1.7, 1.8, 1.75, 1.85, 1.7, 1.75, 1.8, 1.9, 1.98, 1.75, 1.6, 1.85, 1.85]),
    4: (P_X, [1.95, 1.8, 1.7, 1.65, 1.62, 1.6, 1.58, 1.55, 1.6, 1.7, 1.75, 1.97, 1.7, 1.75, 1.65, 1.6, 1.55, 1.5, 1.55, 1.6, 1.97, 1.55, 1.5, 1.45, 1.5,
              1.5, 1.5, 1.55, 1.5, 1.45, 1.55, 1.45, 1.5, 1.55, 1.45, 1.6, 1.55, 1.5, 1.45, 1.55, 1.35, 1.45, 1.45, 1.5, 1.55, 1.5, 1.4, 1.45, 1.6, 1.55]),
    1: (P_X, [2.42, 2.3, 1.9, 1.8, 1.9, 2.0, 2.0, 2.1, 2.15, 2.2, 2.25, 2.3, 2.15, 2.2, 2.1, 2.05, 1.9, 2.1, 2.05, 2.2, 2.38, 2.1, 2.1, 2.05, 1.95,
              1.92, 1.9, 2.05, 1.95, 2.1, 2.0, 1.9, 2.0, 2.15, 1.95, 2.0, 2.1, 1.95, 2.0, 2.1, 1.95, 2.05, 2.2, 2.15, 1.95, 2.1, 2.0, 2.1, 2.15, 2.1]),
}

Q_X = [0, 3, 5, 7, 9, 11, 13, 15, 18, 20, 22, 24, 27, 30, 33, 35, 37, 40, 43, 45, 48, 50, 53, 55, 58, 60, 63, 65, 68, 70,
       73, 75, 78, 80, 83, 85, 88, 90, 93, 95, 97, 99, 101, 103, 106, 109, 112, 115, 118, 121, 124, 127, 129, 131, 133, 135, 137, 140]
LAURENCE_DOWN = {
    1: (Q_X, [0.7, 0.55, 0.78, 0.3, 0.35, 0.25, 0.2, 0.4, 0.5, 0.45, 0.62, 0.45, 0.5, 0.55, 0.45, 0.8, 0.5, 0.55, 0.7, 0.65, 0.7, 0.55, 0.6, 0.75, 0.7, 0.55, 0.65, 0.7, 0.55, 0.6,
              0.65, 0.6, 0.7, 0.6, 0.65, 0.75, 0.7, 0.6, 0.65, 1.05, 1.18, 0.8, 0.5, 0.45, 0.55, 0.7, 0.55, 0.5, 0.65, 0.55, 0.7, 0.8, 0.88, 0.6, 0.85, 0.7, 0.85, 0.7]),
    3: (Q_X, [0.65, 0.5, 0.72, 0.28, 0.32, 0.22, 0.18, 0.38, 0.48, 0.42, 0.58, 0.42, 0.48, 0.52, 0.42, 0.72, 0.48, 0.52, 0.66, 0.62, 0.66, 0.52, 0.57, 0.7, 0.66, 0.52, 0.62, 0.66, 0.52, 0.57,
              0.62, 0.57, 0.66, 0.57, 0.62, 0.7, 0.66, 0.57, 0.62, 0.95, 1.02, 0.72, 0.45, 0.42, 0.52, 0.66, 0.52, 0.47, 0.62, 0.52, 0.66, 0.75, 0.8, 0.57, 0.78, 0.66, 0.78, 0.66]),
    2: (Q_X, [0.55, 0.45, 0.6, 0.25, 0.3, 0.2, 0.15, 0.35, 0.45, 0.4, 0.5, 0.38, 0.45, 0.48, 0.35, 0.6, 0.45, 0.48, 0.55, 0.5, 0.58, 0.45, 0.5, 0.6, 0.55, 0.45, 0.52, 0.55, 0.45, 0.5,
              0.55, 0.48, 0.55, 0.5, 0.5, 0.6, 0.5, 0.5, 0.55, 0.82, 0.9, 0.6, 0.1, -0.08, 0.45, 0.55, 0.45, 0.4, 0.5, 0.45, 0.55, 0.62, 0.68, 0.5, 0.65, 0.55, 0.68, 0.6]),
    4: (Q_X, [0.5, 0.5, 0.55, 0.2, 0.3, 0.1, 0.05, 0.3, 0.45, 0.4, 0.5, 0.35, 0.4, 0.5, 0.15, 0.5, 0.45, 0.45, 0.2, 0.4, 0.55, 0.35, 0.45, 0.5, 0.3, 0.4, 0.45, 0.4, 0.3, 0.45,
              0.5, 0.35, 0.45, 0.55, 0.4, 0.3, 0.1, 0.45, 0.55, 0.7, 0.85, 0.6, -0.05, 0.4, 0.45, 0.35, 0.4, 0.2, 0.45, 0.4, 0.45, 0.5, 0.3, 0.45, 0.0, 0.55, 0.5, 0.55]),
}

R_X = [0, 15, 30, 40, 50, 60, 70, 80, 90, 100, 110, 120, 130, 140, 150, 160, 170, 180, 190, 200, 210, 220, 230, 240, 250, 260, 270, 280, 290, 300, 310, 320, 330, 340, 350, 365]
PO = {
    12: (R_X, [2.5, 2.5, 2.5, 2.8, 3, 3, 2.8, 2.6, 2.8, 2.5, 2.8, 3, 3, 2.8, 2.8, 2.8, 3, 3, 2.8, 3, 2.8, 2.8, 3, 2.8, 2.8, 3, 2.8, 3, 3, 3, 3, 5.5, 3, 2.8, 2.8, 2.8]),
    15: (R_X, [5, 5, 4.8, 4.8, 5, 5, 4.8, 4.6, 4.8, 4.5, 4.8, 5, 4.8, 4.8, 5, 4.8, 4.8, 4.8, 4.6, 4.8, 4.6, 4.6, 4.5, 4.6, 4.5, 4.6, 4.8, 4.8, 4.8, 4.8, 4.8, 5, 5, 4.8, 4.6, 4.5]),
    4: (R_X, [7.8, 7.6, 7.5, 8, 9.5, 8, 7.5, 7.8, 7.5, 8.5, 7.8, 7.5, 7.8, 8, 8, 7.8, 7.8, 7.8, 7.6, 8, 7.8, 7.8, 7.6, 7.8, 7.8, 7.8, 8, 8, 8, 8.2, 9, 10.5, 8, 7.8, 7.8, 7.8]),
    11: (R_X, [9.5, 10, 10, 9.5, 9, 9.5, 10, 10, 9.5, 9.5, 10, 9.5, 10, 9.5, 10, 9.5, 9.5, 10, 9.5, 9.5, 10, 9.5, 10, 9.5, 10, 9.5, 10, 9.5, 9.5, 9.5, 10, 10, 9.5, 10, 9.5, 9.5]),
    16: (R_X, [11.5, 11.5, 11.5, 11, 11, 10, 10.5, 10.5, 10.5, 10.5, 11, 10.5, 10.5, 10.5, 11, 10.5, 10, 10.5, 10, 10, 10.5, 10.5, 11, 10.5, 11, 10.5, 10.5, 10.5, 10.5, 10.5, 10.8, 11, 11, 10.8, 11, 11]),
    6: (R_X, [13.3, 13.3, 13.2, 13.3, 13.2, 13.2, 13.4, 13.3, 13.2, 13.5, 13.3, 13.2, 13.1, 13, 13, 13.1, 13.2, 13.2, 13.3, 13.2, 13.3, 13.2, 13.3, 13.3, 13.3, 13.2, 13.1, 13, 13.1, 13, 13.2, 13.3, 13.4, 13.3, 13.2, 13.2]),
    9: (R_X, [15.5, 15.5, 15, 21, 14, 18, 13, 19, 15, 12, 20, 13, 18, 12, 19, 13, 17, 12, 19, 13, 18, 12, 17, 13, 18, 12, 19, 14, 17, 12, 20, 13, 17, 12, 16, 15]),
    2: (R_X, [14, 14, 14.5, 17, 12, 16, 18, 14, 17, 13, 18, 16, 13, 17, 15, 18, 14, 16, 15, 17, 14, 18, 15, 16, 14, 17, 15, 17, 16, 15, 18, 16, 14, 17, 15, 17]),
    5: (R_X, [10, 10, 10.5, 12, 14, 20, 11, 13, 20, 15, 21, 12, 19, 13, 21, 16, 20, 14, 18, 15, 20, 13, 19, 16, 20, 14, 18, 15, 20, 13, 21, 16, 20, 14, 18, 19]),
    7: (R_X, [20, 20.3, 20, 22, 18, 21, 17, 22, 19, 21, 18, 22, 19, 20, 17, 22, 16, 21, 18, 22, 19, 21, 16, 20, 18, 22, 17, 20, 19, 22, 17, 20, 18, 22, 19, 20]),
    1: (R_X, [20.5, 20, 21, 20, 20.5, 20.5, 20, 20, 20, 19.5, 20, 20, 20, 20, 20, 20, 20, 20, 20, 20, 20, 20, 20, 20, 20, 20, 20, 20, 19.5, 19.5, 19, 18, 17, 16, 15.5, 15]),
    13: (R_X, [18, 16, 22, 21, 23, 20, 21, 21, 20, 20, 21, 22, 21, 20, 20, 21, 21, 21, 20, 20, 21, 22, 21, 20, 20, 21, 21, 21, 22, 23, 25, 22, 20, 21, 22, 24]),
    3: (R_X, [23.5, 23.5, 23, 19, 22, 21, 16, 20, 22, 20, 23, 14, 18, 15, 20, 19, 18, 17, 20, 18, 16, 19, 14, 17, 20, 18, 14, 16, 19, 17, 14, 18, 12, 17, 15, 14]),
    14: (R_X, [30, 31, 25, 22, 28, 15, 26, 18, 27, 15, 26, 20, 12, 22, 14, 24, 12, 20, 14, 26, 16, 22, 12, 24, 16, 20, 14, 22, 12, 20, 24, 12, 20, 14, 22, 20]),
    8: (R_X, [30.5, 30.5, 27, 29, 27, 29, 30, 28, 30, 29, 31, 27, 26, 28, 25, 28, 29, 27, 30, 28, 26, 29, 27, 25, 28, 26, 24, 27, 25, 28, 29, 25, 22, 27, 26, 27]),
}

GANGES = {
    4: ([0, 20, 40, 60, 80, 90, 100, 120, 140, 160, 180, 200, 210, 230, 240, 250, 265, 275, 285, 300, 330, 365],
        [3.3, 3.2, 3, 2.8, 3, 2.6, 2.5, 2.7, 2.6, 2.8, 3.1, 3.5, 3.2, 3, 3.3, 3, 2.8, 3.2, 3.6, 3.5, 3.3, 3.1]),
    2: ([0, 30, 60, 100, 130, 160, 185, 195, 200, 205, 210, 215, 222, 228, 235, 245, 250, 255, 260, 265, 275, 285, 300, 320, 365],
        [1.9, 2, 2.1, 2.3, 2.2, 2, 1.7, 3, 3.2, 4, 5, 3.5, 3, 4.5, 5.6, 5, 3.5, 3.3, 4, 5, 3.5, 2.5, 2.2, 2, 1.9]),
    1: ([0, 30, 60, 90, 100, 130, 160, 180, 190, 200, 205, 210, 215, 222, 228, 235, 245, 250, 255, 260, 265, 275, 285, 300, 320, 340, 365],
        [2.4, 2.4, 2.5, 2.5, 2.4, 2.5, 2.4, 2.3, 3.5, 3, 5, 6.8, 5, 3.5, 5.5, 6.8, 6, 4.5, 4.3, 5, 6, 4.5, 3.5, 3, 2.6, 2.4, 2.4]),
    6: ([0, 30, 60, 80, 100, 120, 140, 160, 180, 190, 200, 210, 220, 240, 260, 270, 285, 300, 330, 365],
        [5.9, 6, 5.9, 6.1, 5.9, 6, 5.9, 5.8, 5.7, 5.5, 5.2, 4.9, 4.8, 4.6, 4.5, 4.8, 5.2, 5.5, 5.8, 6]),
    3: ([0, 10, 20, 30, 50, 70, 75, 85, 100, 115, 120, 130, 140, 155, 160, 170, 180, 185, 195, 200, 205, 210, 220, 225, 230, 240, 250, 260, 265, 270, 275, 285, 295, 305, 320, 340, 355, 365],
        [8.1, 8, 7.8, 7.5, 7.3, 7, 7.6, 6.8, 6.5, 6.5, 7, 6.8, 7.2, 7.5, 7.8, 7.2, 7.3, 6.8, 5, 3.5, 2.8, 3.5, 2.2, 2.6, 2, 2.3, 2.8, 2, 3, 2.2, 3, 5, 7, 8, 8.1, 8, 7.8, 7.6]),
    5: ([0, 30, 60, 100, 120, 150, 170, 185, 195, 200, 205, 210, 215, 218, 222, 228, 235, 245, 250, 255, 260, 265, 270, 275, 280, 290, 300, 320, 340, 365],
        [2.2, 2, 2, 1.8, 1.7, 1.9, 2, 2.5, 3.5, 6, 10, 11.5, 9, 6, 4.5, 10, 11.5, 10, 5, 4.5, 7, 9.8, 8, 6, 4, 3.5, 3, 2.5, 2.2, 2]),
}

# panel specs: title, data, x domain, x ticks, y domain, y ticks, (optional) y tick labels
PANELS = [
    dict(t="a: Platte", d=PLATTE, xd=[0, 20.8], xt=[0, 5, 10, 15, 20], yd=[120, 138], yt=[120, 124, 128, 132, 136]),
    dict(t="b: Tanana", d=TANANA, xd=[0, 100], xt=[0, 20, 40, 60, 80, 100], yd=[16, 34], yt=[16, 20, 24, 28, 32]),
    dict(t="c: Seine", d=SEINE, xd=[0, 368], xt=[0, 100, 200, 300], yd=[0, 6], yt=[0, 1, 2, 3, 4, 5, 6]),
    dict(t="d: Severn", d=SEVERN, xd=[0, 82], xt=[0, 20, 40, 60, 80], yd=[0, 45], yt=[0, 10, 20, 30, 40]),
    dict(t="e: Garrone - upstream", d=GARONNE_UP, xd=[0, 368], xt=[0, 100, 200, 300], yd=[0, 140], yt=[0, 40, 80, 120]),
    dict(t="f: Garrone - downstream", d=GARONNE_DOWN, xd=[0, 368], xt=[0, 100, 200, 300], yd=[0, 90], yt=[0, 20, 40, 60, 80]),
    dict(t="g: Cumberland", d=CUMBERLAND, xd=[0, 161], xt=[0, 40, 80, 120, 160], yd=[-1, 9], yt=[0, 2, 4, 6, 8]),
    dict(t="h: Kanawha", d=KANAWHA, xd=[0, 161], xt=[0, 40, 80, 120, 160], yd=[-2, 16], yt=[0, 4, 8, 12, 16]),
    dict(t="i: Sacramento - upstream", d=SAC_UP, xd=[0, 311], xt=[0, 100, 200, 300], yd=[5, 45], yt=[5, 15, 25, 35, 45]),
    dict(t="j: Sacramento - downstream", d=SAC_DOWN, xd=[0, 161], xt=[0, 40, 80, 120, 160], yd=[0, 18], yt=[0, 4, 8, 12, 16]),
    dict(t="k: Connecticut", d=CONNECTICUT, xd=[0, 212], xt=[0, 50, 100, 150, 200], yd=[0, 700], yt=[0, 100, 200, 300, 400, 500, 600, 700]),
    None,
    dict(t="l: Wabash", d=WABASH, xd=[0, 162], xt=[0, 40, 80, 120, 160], yd=[2, 20], yt=[2, 6, 10, 14, 18]),
    dict(t="m: Ohio", d=OHIO, xd=[0, 212], xt=[0, 50, 100, 150, 200], yd=[-1, 7], yt=[0, 2, 4, 6]),
    dict(t="n: Mississippi - upstream", d=MISS_UP, xd=[0, 162], xt=[0, 40, 80, 120, 160], yd=[4, 18], yt=[4, 6, 8, 10, 12, 14, 16, 18]),
    dict(t="o: Mississippi - downstream", d=MISS_DOWN, xd=[0, 162], xt=[0, 40, 80, 120, 160], yd=[4, 18], yt=[4, 6, 8, 10, 12, 14, 16, 18]),
    dict(t="p: Saint Laurence - upstream", d=LAURENCE_UP, xd=[0, 141], xt=[0, 20, 40, 60, 80, 100, 120, 140], yd=[1, 2.5], yt=[1, 1.5, 2.0, 2.5], yl=["1", "1.5", "2.0", "2.5"]),
    dict(t="q: Saint Laurence - downstream", d=LAURENCE_DOWN, xd=[0, 141], xt=[0, 20, 40, 60, 80, 100, 120, 140], yd=[-0.2, 1.2], yt=[-0.2, 0.2, 0.6, 1.0], yl=["-0.2", "0.2", "0.6", "1"]),
    dict(t="r: Po", d=PO, xd=[0, 368], xt=[0, 100, 200, 300], yd=[0, 35], yt=[0, 5, 10, 15, 20, 25, 30, 35]),
    dict(t="s: Ganges", d=GANGES, xd=[0, 368], xt=[0, 100, 200, 300], yd=[0, 12], yt=[0, 2, 4, 6, 8, 10, 12]),
]


def label_expr(values, labels):
    expr = "''"
    for v, lab in reversed(list(zip(values, labels))):
        expr = f"abs(datum.value - ({v})) < 1e-9 ? '{lab}' : {expr}"
    return expr


def fmt(v):
    return str(int(v)) if float(v).is_integer() else str(v)


def one_row():
    return pd.DataFrame({"f": [0]})


def frame():
    return alt.Chart(one_row()).mark_rect(
        fill="white", fillOpacity=0, stroke=INK, strokeWidth=1
    ).encode(x=alt.value(0), x2=alt.value(PW), y=alt.value(0), y2=alt.value(PH))


def title_layer(text):
    return alt.Chart(pd.DataFrame({"t": [text]})).mark_text(
        font=FONT, fontSize=11, fontWeight="bold", color="#1a1a1a", align="center", baseline="middle"
    ).encode(x=alt.value(PW / 2), y=alt.value(-8), text="t:N")


def caption_layers():
    cap_df = pd.DataFrame({"a": [CAPTION_BOLD], "b": [CAPTION_TEXT]})
    bold = alt.Chart(cap_df).mark_text(align="left", baseline="top", font="Open Sans", fontSize=9.5,
                                       fontWeight="bold", color="#333333").encode(
        x=alt.value(40), y=alt.value(202), text="a:N")
    rest = alt.Chart(cap_df).mark_text(align="left", baseline="top", font="Open Sans", fontSize=9.5,
                                       color="#333333").encode(
        x=alt.value(89), y=alt.value(202), text="b:N")
    return [bold, rest]


def make_panel(p, row, col):
    rows = []
    for sid, (xs, ys) in sorted(p["d"].items()):
        assert len(xs) == len(ys), (p["t"], sid, len(xs), len(ys))
        for k, (x, y) in enumerate(zip(xs, ys)):
            rows.append({"s": f"{sid:02d}", "x": x, "y": y, "k": k})
    df = pd.DataFrame(rows)
    xt, yt = p["xt"], p["yt"]
    xl = [fmt(v) for v in xt]
    yl = p.get("yl", [fmt(v) for v in yt])
    xkw = dict(values=xt, labelExpr=label_expr(xt, xl))
    if row == 4:
        xkw.update(title=XTITLE, titlePadding=1)
    ykw = dict(values=yt, labelExpr=label_expr(yt, yl))
    if col == 0:
        ykw.update(title=YTITLE, minExtent=20, maxExtent=20, titlePadding=10,
                   titleFont=FONT_REG, titleFontSize=10, titleColor="#333333")
    xs = alt.Scale(domain=p["xd"], nice=False, zero=False)
    ys = alt.Scale(domain=p["yd"], nice=False, zero=False)
    x_enc = alt.X("x:Q", scale=xs, axis=alt.Axis(**xkw)) if row == 4 else \
        alt.X("x:Q", title=None, scale=xs, axis=alt.Axis(**xkw))
    y_enc = alt.Y("y:Q", scale=ys, axis=alt.Axis(**ykw)) if col == 0 else \
        alt.Y("y:Q", title=None, scale=ys, axis=alt.Axis(**ykw))
    lines = alt.Chart(df).mark_line(strokeWidth=1.3, clip=True, strokeJoin="round").encode(
        x=x_enc,
        y=y_enc,
        color=alt.Color("s:N", scale=alt.Scale(domain=SERIES_IDS, range=SERIES_COLORS), legend=None),
        strokeDash=alt.StrokeDash("s:N", scale=alt.Scale(domain=SERIES_IDS, range=PLOT_DASH), legend=None),
        order="k:Q",
    )
    # inward tick marks on all four sides (MATLAB box style), drawn through the panel scales
    xin = pd.DataFrame({"x": [v for v in xt if p["xd"][0] < v < p["xd"][1]]})
    yin = pd.DataFrame({"y": [v for v in yt if p["yd"][0] < v < p["yd"][1]]})
    tk = dict(color=INK, strokeWidth=1)
    ticks = [
        alt.Chart(xin).mark_rule(**tk).encode(x=x_enc, y=alt.value(PH), y2=alt.value(PH - TICK)),
        alt.Chart(xin).mark_rule(**tk).encode(x=x_enc, y=alt.value(0), y2=alt.value(TICK)),
        alt.Chart(yin).mark_rule(**tk).encode(y=y_enc, x=alt.value(0), x2=alt.value(TICK)),
        alt.Chart(yin).mark_rule(**tk).encode(y=y_enc, x=alt.value(PW), x2=alt.value(PW - TICK)),
    ]
    layers = [lines] + ticks + [frame(), title_layer(p["t"])]
    if row == 4 and col == 1:
        layers += caption_layers()
    return alt.layer(*layers).properties(width=PW, height=PH)


def make_legend():
    df = pd.DataFrame({"s": SERIES_IDS, "i": list(range(1, 17)), "label": LEGEND_LABELS})
    ysc = alt.Scale(domain=[0.3, 16.4], reverse=True)
    box = alt.Chart(one_row()).mark_rect(fill="white", stroke="#111111", strokeWidth=1.6).encode(
        x=alt.value(45), x2=alt.value(104), y=alt.value(1), y2=alt.value(163))
    rules = alt.Chart(df).mark_rule(strokeWidth=1.3).encode(
        x=alt.value(50), x2=alt.value(88),
        y=alt.Y("i:Q", scale=ysc, axis=None),
        color=alt.Color("s:N", scale=alt.Scale(domain=SERIES_IDS, range=SERIES_COLORS), legend=None),
        strokeDash=alt.StrokeDash("s:N", scale=alt.Scale(domain=SERIES_IDS, range=LEGEND_DASH), legend=None),
    )
    texts = alt.Chart(df).mark_text(align="left", baseline="middle", font=FONT, fontSize=10, color="#111111").encode(
        x=alt.value(90), y=alt.Y("i:Q", scale=ysc, axis=None), text="label:N")
    return alt.layer(box, rules, texts).properties(width=PW, height=PH)


charts = []
for idx, p in enumerate(PANELS):
    r, c = divmod(idx, 4)
    charts.append(make_legend() if p is None else make_panel(p, r, c))

chart = alt.concat(*charts, columns=4, spacing={"row": 28, "column": 38}, bounds="flush").resolve_scale(
    x="independent", y="independent", color="independent", strokeDash="independent"
).properties(
    autosize=alt.AutoSizeParams(type="none"),
    padding={"left": 41.5, "top": 15, "right": 712, "bottom": 975},
).configure_view(stroke=None).configure_axis(
    grid=True, gridColor="#e2e2e2", gridWidth=1, domain=False, ticks=False,
    labelFont=FONT, labelFontSize=10.5, labelColor=INK, labelFlush=False, labelOverlap=False,
    titleFont=FONT, titleFontSize=11, titleFontWeight="normal", titleColor=INK,
).configure_axisX(labelPadding=2).configure_axisY(labelPadding=4)

chart.save("out.html", embed_options={"renderer": "svg", "actions": False})
